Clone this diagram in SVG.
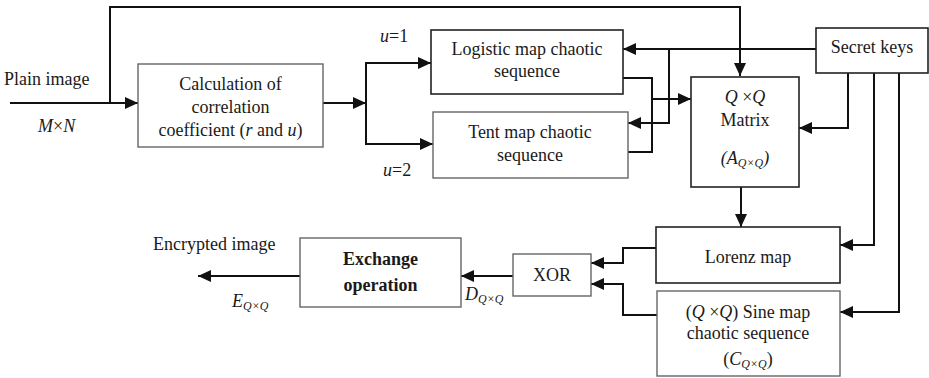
<svg xmlns="http://www.w3.org/2000/svg" width="929" height="378" viewBox="0 0 929 378" font-family="Liberation Serif, DejaVu Serif, serif">
<style>
text{font-family:'Liberation Serif','DejaVu Serif',serif;font-size:18px;fill:#1a1a1a}
.c{text-anchor:middle}
.i{font-style:italic}
.sub{font-size:12px;font-style:italic}
.bd{fill:#fff;stroke:#222;stroke-width:1.6}
.bl{fill:#fff;stroke:#666;stroke-width:1.4}
.ln{fill:none;stroke:#111;stroke-width:2}
</style>
<defs>
<marker id="ar" markerUnits="userSpaceOnUse" markerWidth="13" markerHeight="12" refX="13" refY="6" orient="auto">
<path d="M0,0 L13,6 L0,12 Z" fill="#111"/>
</marker>
</defs>
<rect width="929" height="378" fill="#fff"/>
<g id="connectors">
<path class="ln" d="M10,103 H138" marker-end="url(#ar)"/>
<path class="ln" d="M110,103 V7 H740 V76" marker-end="url(#ar)"/>
<path class="ln" d="M323,103 H366" marker-end="url(#ar)"/>
<path class="ln" d="M366,62 V145"/>
<path class="ln" d="M365,63 H431" marker-end="url(#ar)"/>
<path class="ln" d="M365,144 H433" marker-end="url(#ar)"/>
<path class="ln" d="M816,49 H623" marker-end="url(#ar)"/>
<path class="ln" d="M669,49 V123 H628" marker-end="url(#ar)"/>
<path class="ln" d="M623,78 H652 V152 H628"/>
<path class="ln" d="M652,99 H691" marker-end="url(#ar)"/>
<path class="ln" d="M848,73 V128 H799" marker-end="url(#ar)"/>
<path class="ln" d="M741,187 V227" marker-end="url(#ar)"/>
<path class="ln" d="M874,73 V245 H840" marker-end="url(#ar)"/>
<path class="ln" d="M899,73 V312 H840" marker-end="url(#ar)"/>
<path class="ln" d="M656,248 H623 V263 H591" marker-end="url(#ar)"/>
<path class="ln" d="M657,315 H623 V284 H591" marker-end="url(#ar)"/>
<path class="ln" d="M513,276 H461" marker-end="url(#ar)"/>
<path class="ln" d="M300,276 H198" marker-end="url(#ar)"/>
</g>
<g id="labels">
<text x="4" y="85">Plain image</text>
<text x="38" y="132" class="i">M<tspan font-style="normal">×</tspan>N</text>
<text x="380" y="42"><tspan class="i">u</tspan>=1</text>
<text x="383" y="176"><tspan class="i">u</tspan>=2</text>
<text x="153" y="250">Encrypted image</text>
<text x="232" y="307" class="i">E<tspan class="sub" dy="3">Q×Q</tspan></text>
<text x="465" y="300" class="i">D<tspan class="sub" dy="3">Q×Q</tspan></text>
</g>
<g id="calc">
<rect class="bl" x="138" y="64" width="185" height="83"/>
<text class="c" x="230.5" y="90">Calculation of</text>
<text class="c" x="230.5" y="113">correlation</text>
<text class="c" x="230.5" y="136">coefficient (<tspan class="i">r</tspan> and <tspan class="i">u</tspan>)</text>
</g>
<g id="logistic">
<rect class="bd" x="431" y="30" width="192" height="64"/>
<text class="c" x="527" y="55">Logistic map chaotic</text>
<text class="c" x="527" y="77">sequence</text>
</g>
<g id="tent">
<rect class="bl" x="433" y="112" width="195" height="66"/>
<text class="c" x="530" y="138">Tent map chaotic</text>
<text class="c" x="530" y="161">sequence</text>
</g>
<g id="matrix">
<rect class="bd" x="691" y="77" width="108" height="110"/>
<text class="c" x="745" y="103"><tspan class="i">Q</tspan> ×<tspan class="i">Q</tspan></text>
<text class="c" x="745" y="126">Matrix</text>
<text class="c i" x="745" y="164">(A<tspan class="sub" dy="3">Q×Q</tspan><tspan dy="-3">)</tspan></text>
</g>
<g id="secret-keys">
<rect class="bd" x="816" y="28" width="112" height="45"/>
<text class="c" x="872" y="53" font-size="16">Secret keys</text>
</g>
<g id="lorenz">
<rect class="bd" x="656" y="227" width="184" height="56"/>
<text class="c" x="748" y="263">Lorenz map</text>
</g>
<g id="sine">
<rect class="bl" x="657" y="291" width="183" height="85"/>
<text class="c" x="748" y="318">(<tspan class="i">Q</tspan> ×<tspan class="i">Q</tspan>) Sine map</text>
<text class="c" x="748" y="339">chaotic sequence</text>
<text class="c" x="748" y="365">(<tspan class="i">C</tspan><tspan class="sub" dy="3">Q×Q</tspan><tspan dy="-3">)</tspan></text>
</g>
<g id="xor">
<rect class="bl" x="513" y="254" width="78" height="42"/>
<text class="c" x="552" y="281">XOR</text>
</g>
<g id="exchange">
<rect class="bl" x="300" y="238" width="161" height="69"/>
<text class="c" x="380.5" y="265" font-weight="bold" font-size="19">Exchange</text>
<text class="c" x="380.5" y="291" font-weight="bold" font-size="19">operation</text>
</g>
</svg>
